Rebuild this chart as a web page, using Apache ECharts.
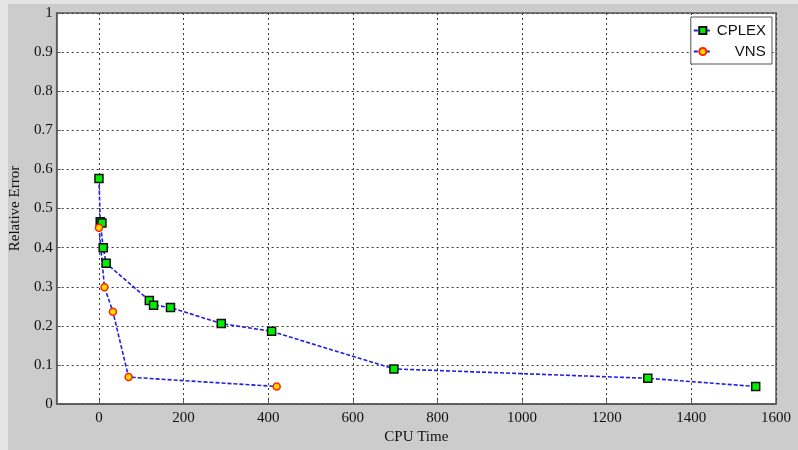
<!DOCTYPE html>
<html>
<head>
<meta charset="utf-8">
<script src="https://cdn.jsdelivr.net/npm/echarts@6/dist/echarts.min.js"></script>
<style>
html,body{margin:0;padding:0;background:#cccccc;}
#stripL{position:absolute;left:0;top:0;width:8px;height:450px;background:#e4e4e4;}
#stripT{position:absolute;left:0;top:0;width:798px;height:4px;background:#e4e4e4;}
#chart{position:absolute;left:0;top:0;width:798px;height:450px;}
</style>
</head>
<body>
<div id="stripL"></div>
<div id="stripT"></div>
<div id="chart"></div>
<script>
// CPU time (x) and relative error (y)
const cplexTime  = [0, 3, 7, 10, 17, 119, 129, 169, 289, 408, 697, 1297, 1552];
const cplexError = [0.577, 0.466, 0.463, 0.400, 0.360, 0.265, 0.253, 0.247, 0.206, 0.186, 0.090, 0.066, 0.045];
const vnsTime    = [0, 13, 33, 70, 420];
const vnsError   = [0.451, 0.299, 0.236, 0.069, 0.045];
const xTicks     = [0, 200, 400, 600, 800, 1000, 1200, 1400, 1600];
const seriesNames = ['CPLEX', 'VNS'];

const zip = (xs, ys) => xs.map((x, i) => [x, ys[i]]);
const serif = 'Liberation Serif';
const axisCol = '#5a5a5a';
const gridLine = {show: true, lineStyle: {color: '#3a3a3a', type: [2, 3], width: 1}};

const chart = echarts.init(document.getElementById('chart'), null, {renderer: 'canvas'});
chart.setOption({
  backgroundColor: 'transparent',
  animation: false,
  grid: {left: 54, right: 22, top: 13, bottom: 43, show: true, backgroundColor: '#ffffff',
         borderColor: axisCol, borderWidth: 1.5},
  legend: {
    orient: 'vertical', right: 26, top: 17,
    data: [{name: 'CPLEX'}, {name: 'VNS', textStyle: {padding: [0, 0, 0, 18]}}],
    backgroundColor: '#ffffff', borderColor: '#555', borderWidth: 1,
    padding: [6, 6, 5, 2], itemWidth: 18, itemHeight: 9, itemGap: 6,
    textStyle: {fontFamily: 'Liberation Sans', fontSize: 15, color: '#111'}
  },
  xAxis: {
    type: 'value', min: -100, max: 1600,
    name: 'CPU Time', nameLocation: 'middle', nameGap: 22,
    nameTextStyle: {fontFamily: serif, fontSize: 15, color: '#111'},
    axisLine: {show: true, onZero: false, lineStyle: {color: axisCol, width: 1.5}},
    axisTick: {show: true, inside: true, length: 4, customValues: xTicks, lineStyle: {color: axisCol}},
    axisLabel: {customValues: xTicks, margin: 6, fontFamily: serif, fontSize: 15, color: '#111',
                formatter: v => String(v)},
    splitLine: gridLine
  },
  yAxis: {
    type: 'value', min: 0, max: 1, interval: 0.1,
    name: 'Relative Error', nameLocation: 'middle', nameGap: 25, nameRotate: 90,
    nameTextStyle: {fontFamily: serif, fontSize: 15, color: '#111'},
    axisLine: {show: true, onZero: false, lineStyle: {color: axisCol, width: 1.5}},
    axisTick: {show: true, inside: true, length: 4, lineStyle: {color: axisCol}},
    axisLabel: {margin: 4, fontFamily: serif, fontSize: 15, color: '#111',
                formatter: v => String(Math.round(v * 10) / 10)},
    splitLine: gridLine
  },
  series: [
    {
      name: seriesNames[0], type: 'line', data: zip(cplexTime, cplexError),
      symbol: 'rect', symbolSize: 8, showAllSymbol: true,
      lineStyle: {color: '#1f1fe6', width: 1.6, type: [4, 2]},
      itemStyle: {color: '#00ee00', borderColor: '#111', borderWidth: 1.5}
    },
    {
      name: seriesNames[1], type: 'line', data: zip(vnsTime, vnsError),
      symbol: 'circle', symbolSize: 7, showAllSymbol: true,
      lineStyle: {color: '#1f1fe6', width: 1.6, type: [4, 2]},
      itemStyle: {color: '#ffdd00', borderColor: '#ff2200', borderWidth: 1.5}
    }
  ]
});
</script>
</body>
</html>
